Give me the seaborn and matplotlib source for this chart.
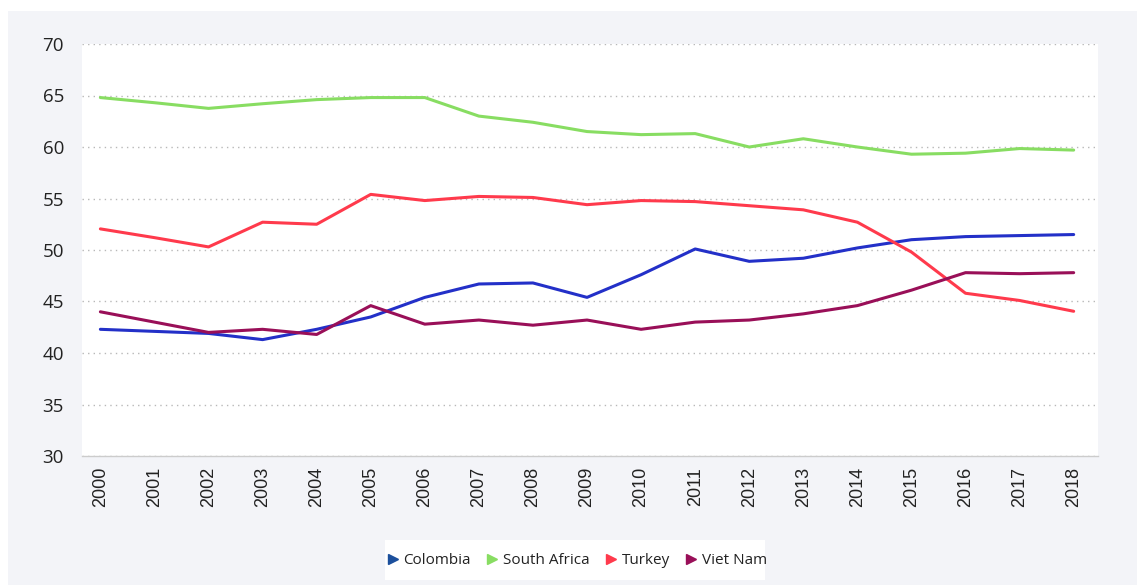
import matplotlib
matplotlib.use("Agg")
import matplotlib.pyplot as plt
from matplotlib.lines import Line2D
from matplotlib.patches import Rectangle
import seaborn as sns
import pandas as pd

years = list(range(2000, 2019))
colombia = [42.3, 42.1, 41.9, 41.3, 42.3, 43.5, 45.4, 46.7, 46.8, 45.4, 47.6,
            50.1, 48.9, 49.2, 50.2, 51.0, 51.3, 51.4, 51.5]
south_africa = [64.8, 64.3, 63.75, 64.2, 64.6, 64.8, 64.8, 63.0, 62.4, 61.5, 61.2,
                61.3, 60.0, 60.8, 60.0, 59.3, 59.4, 59.85, 59.7]
turkey = [52.05, 51.2, 50.3, 52.7, 52.5, 55.4, 54.8, 55.2, 55.1, 54.4, 54.8,
          54.7, 54.3, 53.9, 52.7, 49.8, 45.8, 45.1, 44.05]
viet_nam = [44.0, 43.0, 42.0, 42.3, 41.8, 44.6, 42.8, 43.2, 42.7, 43.2, 42.3,
            43.0, 43.2, 43.8, 44.6, 46.1, 47.8, 47.7, 47.8]

countries = ["Colombia", "South Africa", "Turkey", "Viet Nam"]
line_colors = ["#2330C8", "#88DD62", "#FF3A4C", "#990F58"]
legend_colors = ["#1B4F9C", "#88DD62", "#FF3A4C", "#990F58"]

df = pd.concat([
    pd.DataFrame({"year": years, "value": vals, "country": name})
    for name, vals in zip(countries, [colombia, south_africa, turkey, viet_nam])
])

sns.set_theme(style="white")
plt.rcParams["font.family"] = ["Open Sans", "DejaVu Sans"]

W, H = 1137, 585
fig = plt.figure(figsize=(W / 100, H / 100), dpi=100, facecolor="white")
# light grey panel behind everything
fig.patches.append(Rectangle((8 / W, 0), 1 - 8 / W, 1 - 11 / H, transform=fig.transFigure,
                             facecolor="#F3F4F8", edgecolor="none", zorder=-10))
# white band holding the legend
fig.patches.append(Rectangle((385 / W, 1 - 580 / H), (765 - 385) / W, 40 / H,
                             transform=fig.transFigure, facecolor="white",
                             edgecolor="none", zorder=-5))

ax = fig.add_axes([82 / W, 1 - 456 / H, (1098 - 82) / W, (456 - 44) / H])
ax.set_facecolor("white")

sns.lineplot(data=df, x="year", y="value", hue="country", hue_order=countries,
             palette=line_colors, linewidth=2.2, ax=ax, legend=False)

ax.set_xlim(1999.66, 2018.45)
ax.set_ylim(30, 70)
ax.set_yticks(range(30, 71, 5))
ax.set_xticks(years)
ax.set_xticklabels([str(y) for y in years], rotation=90,
                   fontfamily="Liberation Sans", fontsize=13, color="#222222")
ax.tick_params(axis="y", labelsize=13.5, labelcolor="#222222", length=0, pad=13)
ax.tick_params(axis="x", length=0, pad=8)
ax.set_xlabel("")
ax.set_ylabel("")

ax.yaxis.grid(True, linestyle=(0, (1, 3)), color="#B8B8B8", linewidth=1.0)
ax.xaxis.grid(False)
for side in ["left", "right", "top"]:
    ax.spines[side].set_visible(False)
ax.spines["bottom"].set_color("#CCCCCC")
ax.spines["bottom"].set_linewidth(1.0)

handles = [Line2D([], [], linestyle="none", marker=">", markersize=6.5,
                  markerfacecolor=c, markeredgecolor=c) for c in legend_colors]
fig.legend(handles, countries, loc="center", bbox_to_anchor=(576 / W, 1 - 561 / H),
           ncol=4, frameon=False, fontsize=11, handletextpad=0.2,
           columnspacing=0.9, handlelength=1.0, labelcolor="#222222")

fig.savefig("out.png", dpi=100, facecolor="white")
